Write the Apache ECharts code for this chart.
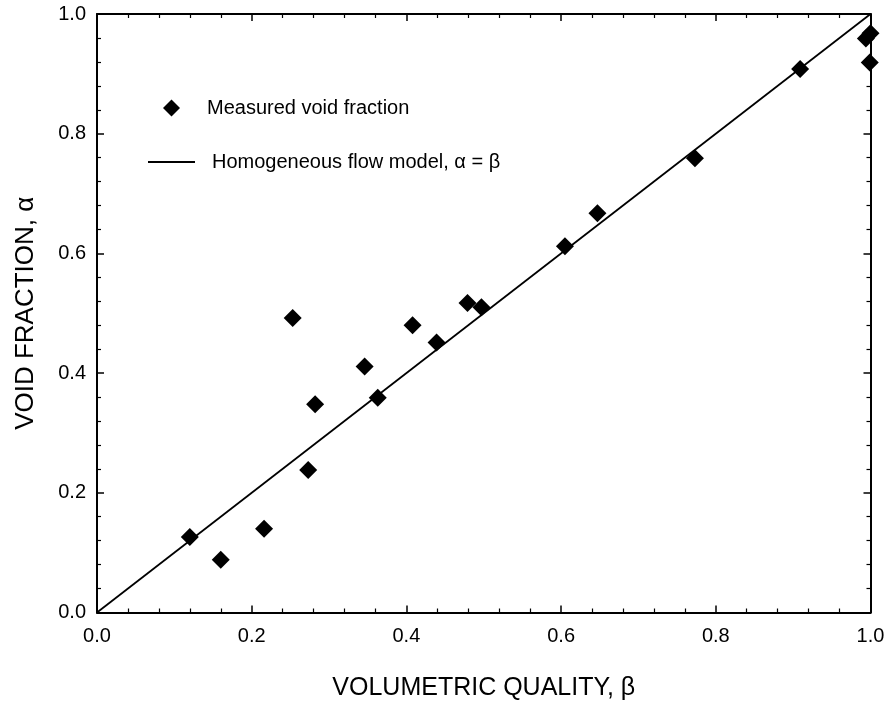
<!DOCTYPE html>
<html>
<head>
<meta charset="utf-8">
<script src="https://cdn.jsdelivr.net/npm/echarts@6/dist/echarts.min.js"></script>
<style>
html,body{margin:0;padding:0;background:#fff;}
#chart{width:890px;height:707px;}
</style>
</head>
<body>
<div id="chart"></div>
<script>
// Data
const betaValues = [0.120, 0.160, 0.216, 0.273, 0.253, 0.282, 0.346, 0.363, 0.408, 0.439, 0.479, 0.497, 0.605, 0.647, 0.773, 0.909, 0.994, 1.000, 0.999];
const alphaValues = [0.126, 0.088, 0.140, 0.238, 0.492, 0.348, 0.411, 0.359, 0.480, 0.451, 0.517, 0.510, 0.612, 0.667, 0.759, 0.908, 0.959, 0.968, 0.919];
const modelBeta = [0, 1];
const modelAlpha = [0, 1];
const tickValues = [0.0, 0.2, 0.4, 0.6, 0.8, 1.0];
const seriesNames = ['Measured void fraction', 'Homogeneous flow model, \u03b1 = \u03b2'];
const xTitle = 'VOLUMETRIC QUALITY, \u03b2';
const yTitle = 'VOID FRACTION, \u03b1';

const FONT = 'Liberation Sans, Arial, sans-serif';
const measured = betaValues.map((b, i) => [b, alphaValues[i]]);
const model = modelBeta.map((b, i) => [b, modelAlpha[i]]);

function axisCommon(showLabels) {
  return {
    type: 'value',
    min: tickValues[0],
    max: tickValues[tickValues.length - 1],
    interval: 0.2,
    splitLine: { show: false },
    axisLine: { show: true, onZero: false, lineStyle: { color: '#000', width: 2 } },
    axisTick: { show: true, inside: true, length: 7, lineStyle: { color: '#000', width: 1.5 } },
    minorTick: { show: true, inside: true, splitNumber: 5, length: 4, lineStyle: { color: '#000', width: 1.2 } },
    axisLabel: {
      show: showLabels,
      color: '#000',
      fontFamily: FONT,
      fontSize: 20,
      formatter: v => v.toFixed(1)
    }
  };
}

const chart = echarts.init(document.getElementById('chart'), null, { renderer: 'canvas' });
const xBottom = Object.assign(axisCommon(true), {
  position: 'bottom',
  name: xTitle,
  nameLocation: 'middle',
  nameGap: 63,
  nameTextStyle: { color: '#000', fontFamily: FONT, fontSize: 25 }
});
xBottom.axisLabel.margin = 14;
const xTop = Object.assign(axisCommon(false), { position: 'top' });
const yLeft = Object.assign(axisCommon(true), {
  position: 'left',
  name: yTitle,
  nameLocation: 'middle',
  nameGap: 58,
  nameTextStyle: { color: '#000', fontFamily: FONT, fontSize: 26 }
});
yLeft.axisLabel.margin = 11;
const yRight = Object.assign(axisCommon(false), { position: 'right' });

chart.setOption({
  backgroundColor: '#fff',
  animation: false,
  grid: { left: 97, right: 19.5, top: 14, bottom: 94.5 },
  xAxis: [xBottom, xTop],
  yAxis: [yLeft, yRight],
  legend: [
    {
      data: [{ name: seriesNames[0], icon: 'diamond', itemStyle: { color: '#000', opacity: 1 } }],
      left: 158, top: 93,
      itemWidth: 17, itemHeight: 17,
      textStyle: { color: '#000', fontFamily: FONT, fontSize: 20, padding: [0, 0, 0, 22] },
      selectedMode: false
    },
    {
      data: [{ name: seriesNames[1], icon: 'rect', itemStyle: { color: '#000' } }],
      left: 143, top: 147,
      itemWidth: 47, itemHeight: 2,
      textStyle: { color: '#000', fontFamily: FONT, fontSize: 20, padding: [0, 0, 0, 12] },
      selectedMode: false
    }
  ],
  series: [
    {
      name: seriesNames[1],
      type: 'line',
      data: model,
      symbol: 'none',
      lineStyle: { color: '#000', width: 1.8 },
      itemStyle: { color: '#000' },
      z: 2
    },
    {
      name: seriesNames[0],
      type: 'scatter',
      data: measured,
      symbol: 'diamond',
      symbolSize: [18, 18],
      clip: false,
      itemStyle: { color: '#000', opacity: 1 },
      z: 3
    }
  ]
});
</script>
</body>
</html>
